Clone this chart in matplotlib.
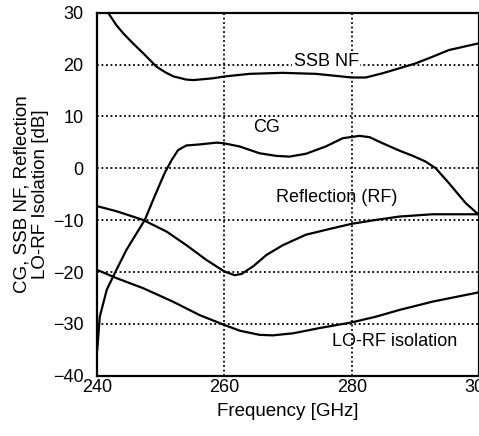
import matplotlib
matplotlib.use("Agg")
import matplotlib.pyplot as plt

# Curves (frequency in GHz, level in dB)
nf_f = [241.7, 243.0, 244.1, 245.6, 247.2, 249.3, 250.7, 252.0, 254.0, 255.1,
        258.2, 260.0, 263.9, 269.1, 274.4, 280.0, 282.2, 284.8, 290.0, 292.7,
        295.3, 300.0]
nf_db = [30.0, 27.6, 26.0, 24.1, 22.2, 19.6, 18.5, 17.7, 17.1, 17.0,
         17.35, 17.7, 18.2, 18.4, 18.2, 17.5, 17.5, 18.3, 20.2, 21.5,
         22.8, 24.1]

cg_f = [240.0, 240.4, 241.5, 243.0, 244.6, 246.2, 247.5, 249.0, 250.6, 251.7,
        252.7, 254.0, 256.1, 258.8, 260.0, 262.4, 265.5, 268.1, 270.2, 272.8,
        275.9, 278.6, 281.2, 282.8, 284.9, 287.5, 289.6, 291.6, 293.2, 295.3,
        297.9, 300.0]
cg_db = [-35.0, -28.6, -23.4, -19.6, -15.7, -12.5, -9.9, -5.45, -0.9, 1.6,
         3.5, 4.4, 4.6, 4.95, 4.8, 4.2, 2.9, 2.4, 2.25, 2.8,
         4.2, 5.8, 6.25, 6.0, 4.8, 3.4, 2.4, 1.3, 0.0, -2.9,
         -6.7, -9.0]

refl_f = [240.0, 243.1, 247.2, 250.9, 254.0, 257.2, 260.0, 261.6, 262.7, 264.5,
          266.6, 269.2, 272.8, 277.0, 280.0, 283.8, 287.5, 292.7, 300.0]
refl_db = [-7.3, -8.3, -9.95, -12.2, -14.8, -17.7, -19.9, -20.6, -20.35, -18.9,
           -16.7, -14.8, -12.8, -11.55, -10.7, -9.95, -9.3, -8.86, -8.86]

iso_f = [240.0, 243.1, 247.2, 251.9, 256.1, 260.0, 262.4, 265.5, 267.6, 270.8,
         274.9, 280.0, 283.8, 287.5, 292.7, 300.0]
iso_db = [-19.6, -21.2, -23.1, -25.7, -28.3, -30.2, -31.3, -32.1, -32.2, -31.8,
          -30.8, -29.7, -28.6, -27.3, -25.7, -23.9]

plt.rcParams["font.family"] = ["Liberation Sans", "DejaVu Sans"]

fig = plt.figure(figsize=(4.79, 4.36), dpi=100)
ax = fig.add_axes([0.203, 0.138, 0.797, 0.833])

for f, db in [(nf_f, nf_db), (cg_f, cg_db), (refl_f, refl_db), (iso_f, iso_db)]:
    ax.plot(f, db, color="black", linewidth=1.6, zorder=3,
            solid_joinstyle="round")

ax.set_xlim(240, 300)
ax.set_ylim(-40, 30)
ax.set_xticks([240, 260, 280, 300])
ax.set_yticks(range(-40, 31, 10))
ax.grid(True, color="black", linestyle=(0, (1, 1.5)), linewidth=1.3)
ax.tick_params(length=0, labelsize=13, pad=2)
ax.tick_params(axis="y", pad=10)
for s in ax.spines.values():
    s.set_linewidth(1.6)

ax.text(276, 20.5, "SSB NF", fontsize=13, ha="center", va="center", zorder=4,
        bbox=dict(facecolor="white", edgecolor="none", pad=1))
ax.text(266.6, 7.8, "CG", fontsize=13, ha="center", va="center", zorder=4)
ax.text(277.7, -5.7, "Reflection (RF)", fontsize=13, ha="center", va="center", zorder=4)
ax.text(286.7, -33.4, "LO-RF isolation", fontsize=13, ha="center", va="center", zorder=4)

ax.set_xlabel("Frequency [GHz]", fontsize=13.5, labelpad=5)
ax.set_ylabel("CG, SSB NF, Reflection\nLO-RF Isolation [dB]", fontsize=13.5,
              labelpad=3, linespacing=1.05)

fig.savefig("out.png", dpi=100)
